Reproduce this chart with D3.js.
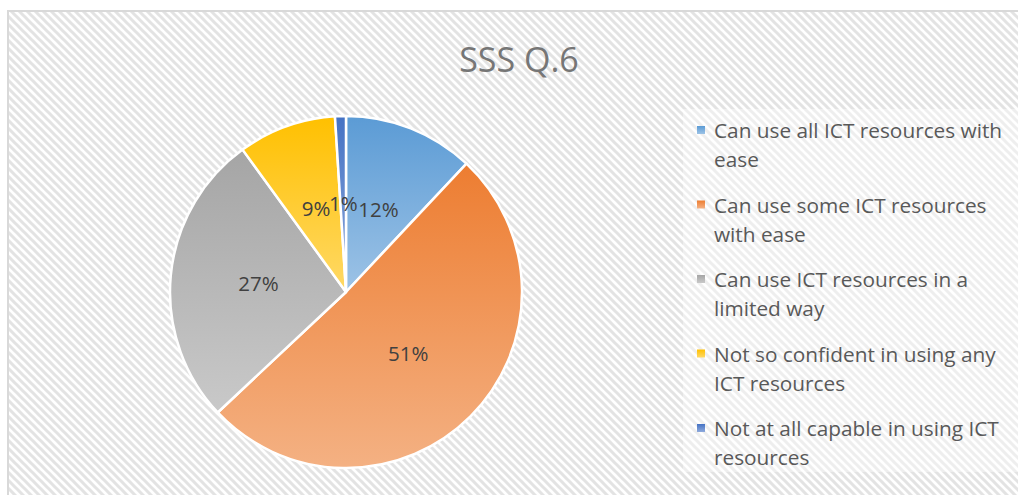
<!DOCTYPE html>
<html>
<head>
<meta charset="utf-8">
<script src="https://cdn.jsdelivr.net/npm/d3@7"></script>
<style>
  body { margin: 0; background: #fff; }
  svg { display: block; }
</style>
</head>
<body>
<div id="container"></div>
<script>
var width = 1018, height = 495;

const categories = [
    "Can use all ICT resources with ease",
    "Can use some ICT resources with ease",
    "Can use ICT resources in a limited way",
    "Not so confident in using any ICT resources",
    "Not at all capable in using ICT resources"
];
const values = [12, 51, 27, 9, 1];
// legend text, wrapped as in the picture
const legendLines = [
    ["Can use all ICT resources with", "ease"],
    ["Can use some ICT resources", "with ease"],
    ["Can use ICT resources in a", "limited way"],
    ["Not so confident in using any", "ICT resources"],
    ["Not at all capable in using ICT", "resources"]
];
const topColors = ["#5b9bd5", "#ed7d31", "#a5a5a5", "#ffc000", "#4472c4"];
const bottomColors = ["#9dc3e6", "#f4b183", "#c9c9c9", "#ffd966", "#8faadc"];

const svg = d3.select("div#container").append("svg")
    .attr("width", width)
    .attr("height", height);

const defs = svg.append("defs");

const hatch = defs.append("pattern")
    .attr("id", "hatch")
    .attr("patternUnits", "userSpaceOnUse")
    .attr("width", 8)
    .attr("height", 8);
hatch.append("rect").attr("width", 8).attr("height", 8).attr("fill", "#fff");
hatch.append("path")
    .attr("d", "M-2,-2 L10,10 M-2,6 L2,10 M6,-2 L10,2")
    .attr("stroke", "#e3e3e3")
    .attr("stroke-width", 3);

topColors.forEach(function (c, i) {
    const g = defs.append("linearGradient")
        .attr("id", "grad" + i)
        .attr("x1", 0).attr("y1", 0).attr("x2", 0).attr("y2", 1);
    g.append("stop").attr("offset", "0%").attr("stop-color", c);
    g.append("stop").attr("offset", "100%").attr("stop-color", bottomColors[i]);
});

// chart area with hatched fill and frame
svg.append("rect")
    .attr("x", 8)
    .attr("y", 11)
    .attr("width", width)
    .attr("height", height)
    .attr("fill", "url(#hatch)")
    .attr("stroke", "#d9d9d9")
    .attr("stroke-width", 2);

svg.append("text")
    .attr("x", 519)
    .attr("y", 72)
    .attr("text-anchor", "middle")
    .attr("font-family", "Open Sans")
    .attr("font-size", 34)
    .attr("fill", "#767676")
    .text("SSS Q.6");

// pie
var cx = 346, cy = 292, radius = 176;

const pie = d3.pie().sort(null).value(d => d);
const arcs = pie(values);
const arc = d3.arc().innerRadius(0).outerRadius(radius);

const gPie = svg.append("g").attr("transform", "translate(" + cx + "," + cy + ")");

gPie.selectAll("path")
    .data(arcs)
    .join("path")
    .attr("d", arc)
    .attr("fill", (d, i) => "url(#grad" + i + ")")
    .attr("stroke", "#fff")
    .attr("stroke-width", 2.5)
    .attr("stroke-linejoin", "round");

gPie.selectAll("text")
    .data(arcs)
    .join("text")
    .attr("transform", d => "translate(" + arc.centroid(d) + ")")
    .attr("text-anchor", "middle")
    .attr("dy", "0.35em")
    .attr("font-family", "Open Sans")
    .attr("font-size", 20.5)
    .attr("fill", "#404040")
    .text(d => d.value + "%");

// legend
const legend = svg.append("g");

legend.append("rect")
    .attr("x", 683)
    .attr("y", 109)
    .attr("width", 340)
    .attr("height", 363)
    .attr("fill", "#fff")
    .attr("fill-opacity", 0.4);

const item = legend.selectAll("g")
    .data(legendLines)
    .join("g")
    .attr("transform", (d, i) => "translate(697," + (130 + i * 74.5) + ")");

item.append("rect")
    .attr("x", 0)
    .attr("y", -4)
    .attr("width", 8)
    .attr("height", 8)
    .attr("fill", (d, i) => "url(#grad" + i + ")");

item.each(function (lines) {
    const t = d3.select(this).append("text")
        .attr("font-family", "Open Sans")
        .attr("font-size", 20.8)
        .attr("fill", "#595959");
    lines.forEach(function (ln, j) {
        t.append("tspan")
            .attr("x", 17)
            .attr("y", j * 29 + 1)
            .attr("dy", "0.35em")
            .text(ln);
    });
});
</script>
</body>
</html>
